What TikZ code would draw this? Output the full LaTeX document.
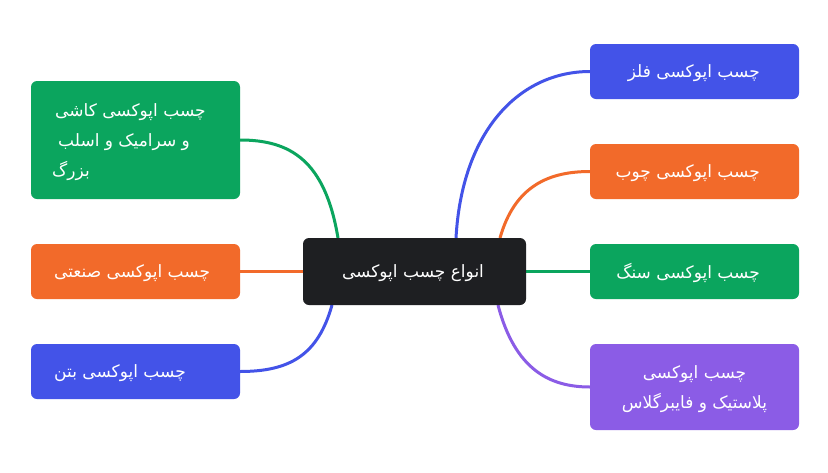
\documentclass[tikz,border=0pt]{standalone}
\usepackage{fontspec}
\TeXXeTstate=1
\newfontfamily\arabicfont[Script=Arabic]{DejaVu Sans}
\definecolor{cblue}{HTML}{4353E8}
\definecolor{corange}{HTML}{F26A2A}
\definecolor{cgreen}{HTML}{0BA55E}
\definecolor{cpurple}{HTML}{8B5CE6}
\definecolor{cdark}{HTML}{1E1F22}
\newcommand{\fa}[1]{\beginR #1\endR}
\tikzset{
  box/.style={inner sep=0pt, text=white, font=\arabicfont\fontsize{17}{30}\selectfont},
  link/.style={line width=3pt},
}
\begin{document}
\begin{tikzpicture}[x=1pt,y=-1pt]
\useasboundingbox[fill=white] (0,0) rectangle (828,472);
% connector anchors
\coordinate (a1) at (456,238); \coordinate (b1) at (590,71.5);
\coordinate (a2) at (500,238); \coordinate (b2) at (590,171.5);
\coordinate (a3) at (526,271.5); \coordinate (b3) at (590,271.5);
\coordinate (a4) at (498,305); \coordinate (b4) at (590,387);
\coordinate (a5) at (338,238); \coordinate (b5) at (240,140);
\coordinate (a6) at (303,271.5); \coordinate (b6) at (240,271.5);
\coordinate (a7) at (332,305); \coordinate (b7) at (240,371.5);
% connectors
\draw[link, cblue] (a1) .. controls (462,130) and (520,71.5) .. (b1);
\draw[link, corange] (a2) .. controls (515,185) and (550,171.5) .. (b2);
\draw[link, cgreen] (a3) -- (b3);
\draw[link, cpurple] (a4) .. controls (515,370) and (550,387) .. (b4);
\draw[link, cgreen] (a5) .. controls (325,160) and (290,140) .. (b5);
\draw[link, corange] (a6) -- (b6);
\draw[link, cblue] (a7) .. controls (318,355) and (290,371.5) .. (b7);
% boxes
\fill[cdark, rounded corners=6pt] (303,238) rectangle (526,305);
\node[box, anchor=center] (c) at (413,273) {\fa{انواع چسب اپوکسی}};

\fill[cblue, rounded corners=6pt] (590,44) rectangle (799,99);
\node[box, anchor=east] (r1) at (760,73) {\fa{چسب اپوکسی فلز}};
\fill[corange, rounded corners=6pt] (590,144) rectangle (799,199);
\node[box, anchor=east] (r2) at (760,173) {\fa{چسب اپوکسی چوب}};
\fill[cgreen, rounded corners=6pt] (590,244) rectangle (799,299);
\node[box, anchor=east] (r3) at (760,273) {\fa{چسب اپوکسی سنگ}};
\fill[cpurple, rounded corners=6pt] (590,344) rectangle (799,430);
\node[box, anchor=center, align=center] (r4) at (694.5,389.5) {\fa{چسب اپوکسی}\\\fa{پلاستیک و فایبرگلاس}};

\fill[cgreen, rounded corners=6pt] (31,81) rectangle (240,199);
\node[box, anchor=west, align=left] (l1) at (55,142.5) {\fa{چسب اپوکسی کاشی}\\\hspace*{3pt}\fa{و سرامیک و اسلب}\\\hspace*{-3pt}\fa{بزرگ}};
\fill[corange, rounded corners=6pt] (31,244) rectangle (240,299);
\node[box, anchor=west] (l2) at (54,273) {\fa{چسب اپوکسی صنعتی}};
\fill[cblue, rounded corners=6pt] (31,344) rectangle (240,399);
\node[box, anchor=west] (l3) at (54,373) {\fa{چسب اپوکسی بتن}};
\end{tikzpicture}
\end{document}
